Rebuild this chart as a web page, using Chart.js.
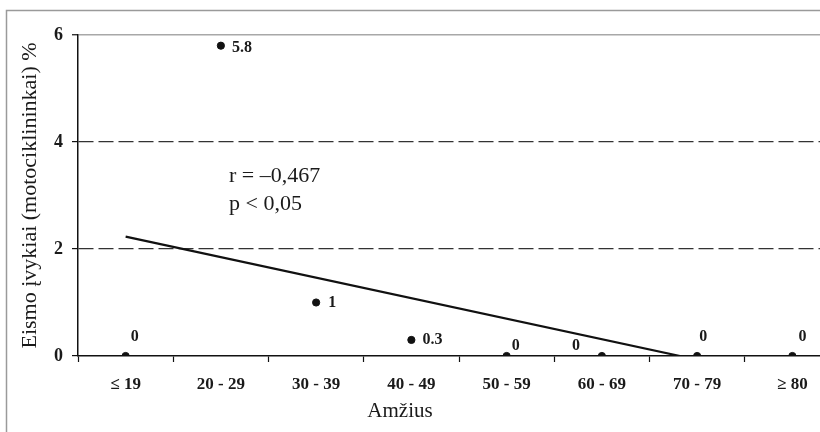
<!DOCTYPE html>
<html lang="lt">
<head>
    <meta charset="UTF-8">
    <title>Eismo įvykiai pagal amžių</title>
    <script src="https://cdn.jsdelivr.net/npm/chart.js@4"></script>
    <style>
        html, body { margin: 0; padding: 0; overflow: hidden; background: #fff; }
        #wrap { width: 860px; height: 432px; }
    </style>
</head>
<body>
    <div id="wrap"><canvas id="chart" width="860" height="432"></canvas></div>

    <script>
        // amžiaus grupės
        const ageGroups = ['≤ 19', '20 - 29', '30 - 39', '40 - 49', '50 - 59', '60 - 69', '70 - 79', '≥ 80'];
        // eismo įvykiai, %
        const accidentShare = [0, 5.8, 1, 0.3, 0, 0, 0, 0];
        // trendo linija (galai nuskaityti nuo paveikslo)
        const trendX = [0, 5.82];
        const trendY = [2.23, 0];
        const yTicks = [0, 2, 4, 6];
        const statLines = ['r = –0,467', 'p < 0,05'];

        const serif = "'Liberation Serif', 'Times New Roman', serif";

        // užrašų poslinkiai prie taškų
        const labelPlace = [
            { dx: 9, dy: -19, align: 'center' },
            { dx: 11, dy: 2, align: 'left' },
            { dx: 12, dy: 0, align: 'left' },
            { dx: 11, dy: 0, align: 'left' },
            { dx: 9, dy: -10, align: 'center' },
            { dx: -26, dy: -10, align: 'center' },
            { dx: 6, dy: -19, align: 'center' },
            { dx: 10, dy: -19, align: 'center' }
        ];

        const extras = {
            id: 'extras',
            beforeDraw(chart) {
                const c = chart.ctx;
                c.save();
                c.strokeStyle = '#9a9a9a';
                c.lineWidth = 1.5;
                c.strokeRect(6.5, 10.5, chart.width + 20, chart.height + 20);
                c.restore();
            },
            afterDraw(chart) {
                const c = chart.ctx;
                const xs = chart.scales.x, ys = chart.scales.y;
                c.save();
                c.fillStyle = '#1a1a1a';
                c.textBaseline = 'middle';

                // taškų reikšmės
                c.font = 'bold 16px ' + serif;
                accidentShare.forEach((v, i) => {
                    const p = labelPlace[i];
                    c.textAlign = p.align;
                    c.fillText(String(v), xs.getPixelForValue(i) + p.dx, ys.getPixelForValue(v) + p.dy);
                });

                // r ir p
                c.font = '22px ' + serif;
                c.textAlign = 'left';
                c.fillText(statLines[0], 229, 176);
                c.fillText(statLines[1], 229, 204);

                // x ašies pavadinimas
                c.font = '21px ' + serif;
                c.textAlign = 'center';
                c.fillText('Amžius', 400, 411);
                c.restore();
            }
        };

        new Chart(document.getElementById('chart'), {
            type: 'scatter',
            data: {
                datasets: [
                    {
                        type: 'line',
                        data: trendX.map((x, i) => ({ x: x, y: trendY[i] })),
                        borderColor: '#111',
                        borderWidth: 2.2,
                        pointRadius: 0,
                        fill: false
                    },
                    {
                        data: accidentShare.map((v, i) => ({ x: i, y: v })),
                        backgroundColor: '#111',
                        borderColor: '#111',
                        pointRadius: 3.6,
                        pointHoverRadius: 3.6
                    }
                ]
            },
            options: {
                responsive: false,
                animation: false,
                layout: { padding: { top: 35, right: 20, left: 0, bottom: 0 } },
                plugins: { legend: { display: false }, tooltip: { enabled: false } },
                scales: {
                    x: {
                        type: 'linear',
                        min: -0.5,
                        max: 7.5,
                        afterBuildTicks: s => { s.ticks = ageGroups.map((_, i) => ({ value: i })); },
                        afterFit: s => { s.height = 76; },
                        ticks: {
                            callback: v => ageGroups[v],
                            font: { family: serif, size: 17, weight: 'bold' },
                            color: '#1a1a1a',
                            padding: 12,
                            maxRotation: 0,
                            autoSkip: false
                        },
                        grid: {
                            offset: true,
                            drawOnChartArea: false,
                            tickLength: 6,
                            tickColor: '#111',
                            tickWidth: 1.2
                        },
                        border: { color: '#111', width: 1.5 },
                        title: { display: false }
                    },
                    y: {
                        min: 0,
                        max: 6,
                        afterBuildTicks: s => { s.ticks = yTicks.map(v => ({ value: v })); },
                        afterFit: s => { s.width = 78; },
                        ticks: {
                            font: { family: serif, size: 18, weight: 'bold' },
                            color: '#1a1a1a',
                            padding: 9
                        },
                        grid: {
                            color: ctx => ctx.tick.value === 0 ? 'rgba(0,0,0,0)' : (ctx.tick.value === 6 ? '#a8a8a8' : '#333'),
                            lineWidth: ctx => ctx.tick.value === 6 ? 1.5 : 1.2,
                            tickLength: 6,
                            tickColor: '#111',
                            tickWidth: 1.2
                        },
                        border: {
                            color: '#111',
                            width: 1.5,
                            dash: ctx => (ctx.tick && (ctx.tick.value === 2 || ctx.tick.value === 4)) ? [15, 5] : []
                        },
                        title: {
                            display: true,
                            text: 'Eismo įvykiai (motociklininkai) %',
                            font: { family: serif, size: 22 },
                            color: '#1a1a1a',
                            padding: { top: 17, bottom: 0 }
                        }
                    }
                }
            },
            plugins: [extras]
        });
    </script>
</body>
</html>
